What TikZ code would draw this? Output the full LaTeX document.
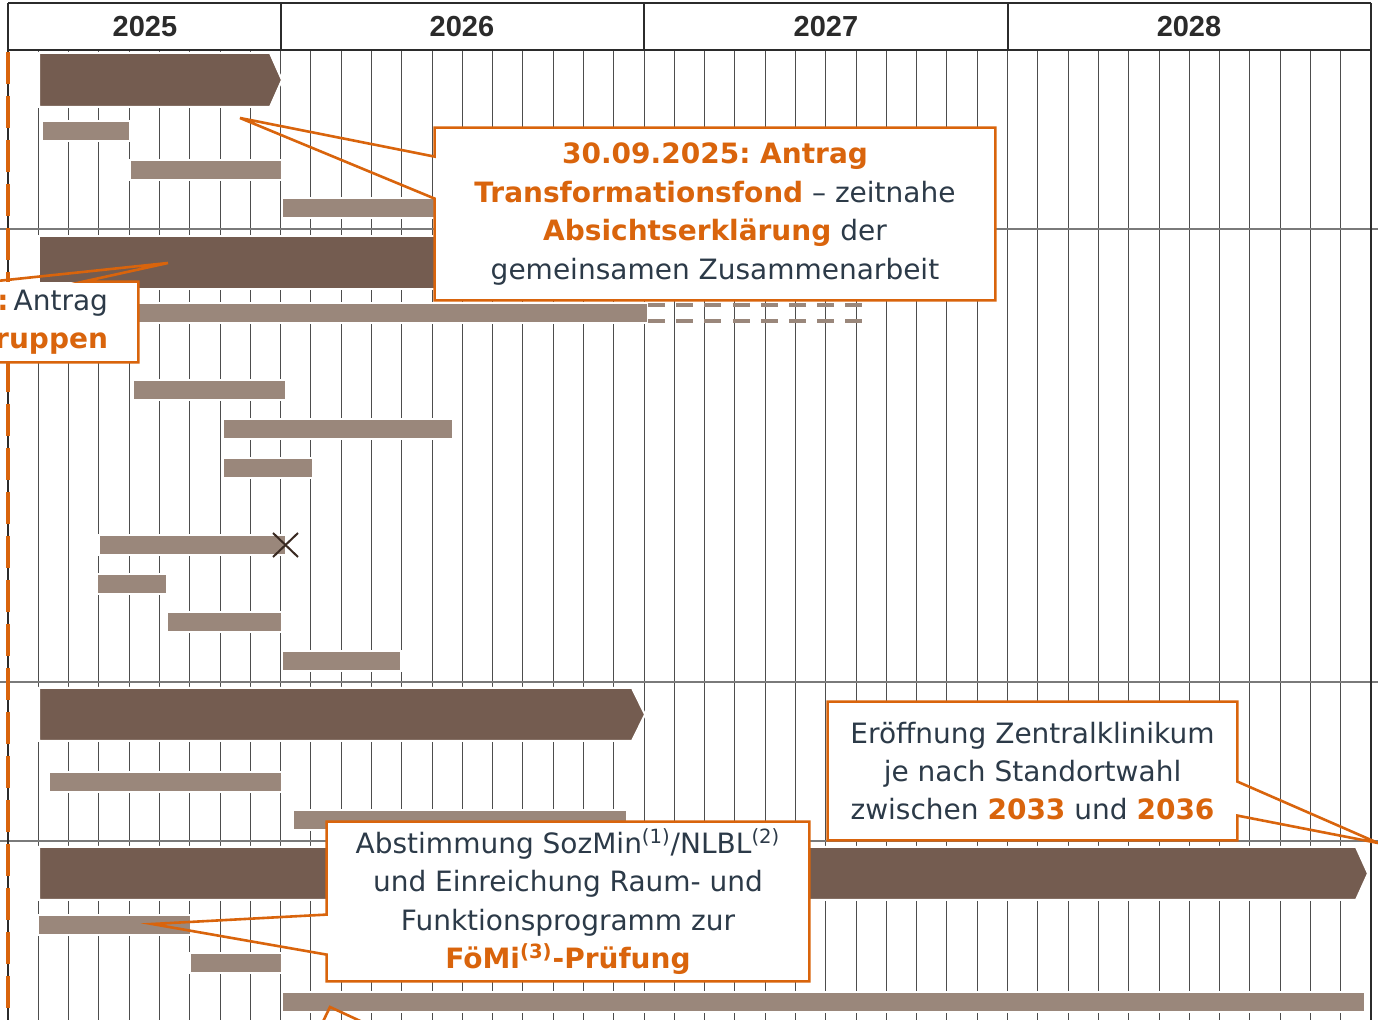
\documentclass[tikz,border=0pt]{standalone}
\usepackage{fontspec}
\setmainfont{DejaVu Sans}
\newfontfamily\yearfont{Liberation Sans}
\usetikzlibrary{calc}
\frenchspacing

\definecolor{phasebrown}{HTML}{745C50}
\definecolor{taskbrown}{HTML}{9A877B}
\definecolor{accent}{HTML}{D9640C}
\definecolor{ink}{HTML}{2C3A48}
\definecolor{gridline}{HTML}{4D4D4D}
\definecolor{rowline}{HTML}{7A7A7A}
\definecolor{frameline}{HTML}{2B2B2B}
\definecolor{xdark}{HTML}{3A2A22}

\newcommand{\calloutfont}{\fontsize{14pt}{19.2pt}\selectfont}
\newcommand{\accentbf}[1]{\textcolor{accent}{\bfseries #1}}

\tikzset{
  phase/.style={fill=phasebrown, draw=white, line width=1pt},
  task/.style={fill=taskbrown, draw=white, line width=1pt},
  taskdash/.style={draw=taskbrown, line width=2pt, dash pattern=on 8.5pt off 5.6pt},
  xmark/.style={draw=xdark, line width=1pt},
  callout/.style={draw=accent, line width=1.3pt},
  calloutbox/.style={fill=white, inner sep=0pt, align=center, text=ink, font=\calloutfont},
  year/.style={font=\yearfont\bfseries\fontsize{14.5pt}{17pt}\selectfont, text=frameline},
}

\begin{document}
\begin{tikzpicture}[x=0.5pt, y=-0.5pt]
  \def\mw{30.29}
  \useasboundingbox (0,0) rectangle (1378,1020);
  \clip (0,0) rectangle (1378,1020);
  \fill[white] (0,0) rectangle (1378,1020);

  % Month grid
  \foreach \k in {1,...,44}
    \draw[gridline, line width=0.5pt] ({8+\k*\mw},50) -- ({8+\k*\mw},1020);

  % Row separators
  \foreach \y in {229,682,841}
    \draw[rowline, line width=0.7pt] (0,\y) -- (1378,\y);

  % Header with years
  \draw[frameline, line width=1pt] (8,3) -- (1371,3) (8,50) -- (1371,50);
  \foreach \k in {9,21,33}
    \draw[frameline, line width=1pt] ({8+\k*\mw},3) -- ({8+\k*\mw},50);
  \draw[frameline, line width=1pt] (8,3) -- (8,1020) (1371,3) -- (1371,1020);
  \node[year] (y2025) at (145,27) {2025};
  \node[year] (y2026) at (462,27) {2026};
  \node[year] (y2027) at (826,27) {2027};
  \node[year] (y2028) at (1189,27) {2028};

  % Phase 1
  \path[phase] (39,53) -- (270,53) -- (282,80) -- (270,107) -- (39,107) -- cycle;
  \path[task] (42,121) rectangle (130,141);
  \path[task] (130,160) rectangle (282,180);
  \path[task] (282,198) rectangle (470,218);

  % Phase 2
  \path[phase] (39,236) rectangle (640,289);
  \path[task] (39,303) rectangle (648,323);
  \draw[taskdash] (648,305) -- (862,305) (648,321) -- (862,321);
  \path[task] (133,380) rectangle (286,400);
  \path[task] (223,419) rectangle (453,439);
  \path[task] (223,458) rectangle (313,478);
  \path[task] (99,535) rectangle (286,555);
  \draw[xmark] (273,533) -- (298,557) (273,557) -- (298,533);
  \path[task] (97,574) rectangle (167,594);
  \path[task] (167,612) rectangle (282,632);
  \path[task] (282,651) rectangle (401,671);

  % Phase 3
  \path[phase] (39,688) -- (632,688) -- (645,714.5) -- (632,741) -- (39,741) -- cycle;
  \path[task] (49,772) rectangle (282,792);
  \path[task] (293,810) rectangle (627,830);

  % Phase 4
  \path[phase] (39,847) -- (1356,847) -- (1368,873.5) -- (1356,900) -- (39,900) -- cycle;
  \path[task] (38,915) rectangle (191,935);
  \path[task] (190,953) rectangle (282,973);
  \path[task] (282,992) rectangle (1365,1012);

  % today line
  \draw[draw=accent, line width=2pt, dash pattern=on 16pt off 6pt] (8,52) -- (8,1020);

  % Callout: Transformationsfond
  \coordinate (tipFond) at (240,118);
  \node[calloutbox, minimum width=280pt, minimum height=86pt] (fond) at (715,214)
    {\accentbf{30.09.2025: Antrag}\\ \accentbf{Transformationsfond} – zeitnahe\\
     \accentbf{Absichtserklärung} der\\ gemeinsamen Zusammenarbeit};
  \draw[callout] ($(fond.north west)+(0,29)$) -- (tipFond) -- ($(fond.north west)+(0,71)$)
    -- (fond.south west) -- (fond.south east) -- (fond.north east) -- (fond.north west) -- cycle;

  % Callout at the left edge
  \coordinate (tipGrp) at (168,263);
  \node[calloutbox, text width=69pt, align=right, inner xsep=15pt, minimum height=40pt] (grp) at (39,322)
    {\accentbf{:}\hspace{2.5pt}Antrag\\ \accentbf{ruppen}};
  \draw[callout] ($(grp.north east)+(-55,0)$) -- (tipGrp) -- ($(grp.north east)+(-147,0)$)
    -- (grp.north west) -- (grp.south west) -- (grp.south east) -- (grp.north east) -- cycle;

  % Callout: Eroeffnung
  \coordinate (tipOpen) at (1378,843);
  \node[calloutbox, minimum width=204.5pt, minimum height=69pt] (open) at (1032.5,771)
    {Eröffnung Zentralklinikum\\ je nach Standortwahl\\ zwischen \accentbf{2033} und \accentbf{2036}};
  \draw[callout] ($(open.north east)+(0,80)$) -- (tipOpen) -- ($(open.north east)+(0,114)$)
    -- (open.south east) -- (open.south west) -- (open.north west) -- (open.north east) -- cycle;

  % Callout: FoeMi
  \coordinate (tipFoemi) at (152,924);
  \node[calloutbox, minimum width=241pt, minimum height=79.5pt] (foemi) at (568,901.5)
    {Abstimmung SozMin\textsuperscript{(1)}/NLBL\textsuperscript{(2)}\\ und Einreichung Raum- und\\
     Funktionsprogramm zur\\ \accentbf{FöMi\textsuperscript{(3)}-Prüfung}};
  \draw[callout] ($(foemi.north west)+(0,93)$) -- (tipFoemi) -- ($(foemi.north west)+(0,133)$)
    -- (foemi.south west) -- (foemi.south east) -- (foemi.north east) -- (foemi.north west) -- cycle;

  % pointer of the callout below
  \coordinate (tipLow) at (330,1007);
  \coordinate (lowL) at (318,1032);
  \coordinate (lowR) at (384,1032);
  \draw[callout] (lowL) -- (tipLow) -- (lowR);
\end{tikzpicture}
\end{document}
